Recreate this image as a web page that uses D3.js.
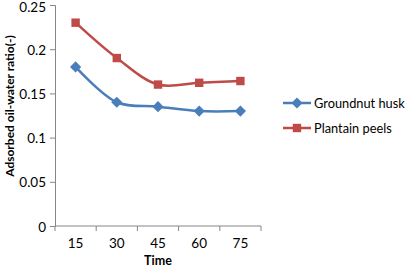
<!DOCTYPE html>
<html>
<head>
<meta charset="utf-8">
<script src="https://cdn.jsdelivr.net/npm/d3@7.9.0/dist/d3.min.js"></script>
<style>
body { margin: 0; background: #fff; }
text { font-family: Lato, "Liberation Sans", sans-serif; fill: #000; }
</style>
</head>
<body>
<svg width="405" height="269"></svg>
<script>
const times = ['15', '30', '45', '60', '75'];
const groundnut = [0.18, 0.14, 0.135, 0.13, 0.13];
const plantain = [0.23, 0.19, 0.16, 0.162, 0.164];
const yTicks = [0, 0.05, 0.1, 0.15, 0.2, 0.25];
const seriesNames = ['Groundnut husk', 'Plantain peels'];
const colors = ['#4a7ebb', '#be4b48'];

const svg = d3.select('svg');
const plotLeft = 55, plotRight = 261, plotTop = 5, plotBottom = 226;

const x = d3.scaleBand().domain(times).range([plotLeft, plotRight]);
const y = d3.scaleLinear().domain([0, 0.25]).range([plotBottom, plotTop]);

// y axis
const yAxis = svg.append('g').attr('transform', `translate(${plotLeft},0)`)
    .call(d3.axisLeft(y).tickValues(yTicks).tickSize(5).tickPadding(4)
        .tickFormat(d => d === 0 ? '0' : String(+d.toFixed(2))));
yAxis.select('.domain').attr('stroke', '#868686');
yAxis.selectAll('line').attr('stroke', '#868686');
yAxis.selectAll('text').attr('font-size', 13.5)
    .attr('dy', d => d === 0.25 ? '0.48em' : '0.38em');

// x axis (ticks between categories)
const xAxis = svg.append('g').attr('transform', `translate(0,${plotBottom})`);
xAxis.append('line').attr('x1', plotLeft).attr('x2', plotRight).attr('stroke', '#868686');
const edges = times.map(t => x(t)).concat([plotRight]);
xAxis.selectAll('.tk').data(edges).join('line')
    .attr('x1', d => d).attr('x2', d => d).attr('y1', 0).attr('y2', 5)
    .attr('stroke', '#868686');
xAxis.selectAll('.lbl').data(times).join('text')
    .attr('x', d => x(d) + x.bandwidth() / 2).attr('y', 22)
    .attr('text-anchor', 'middle').attr('font-size', 13.5).text(d => d);

// titles
svg.append('text').attr('x', 158).attr('y', 265).attr('text-anchor', 'middle')
    .attr('font-weight', 'bold').attr('font-size', 12.5).text('Time');
svg.append('text').attr('transform', 'translate(14,106) rotate(-90)')
    .attr('text-anchor', 'middle').attr('font-weight', 'bold').attr('font-size', 12)
    .text('Adsorbed oil-water ratio(-)');

const line = d3.line()
    .x((d, i) => x(times[i]) + x.bandwidth() / 2)
    .y(d => y(d))
    .curve(d3.curveCatmullRom.alpha(0.5));

[groundnut, plantain].forEach((vals, s) => {
    svg.append('path').attr('d', line(vals)).attr('fill', 'none')
        .attr('stroke', colors[s]).attr('stroke-width', 2.5);
    const sym = s === 0 ? d3.symbolDiamond2 : d3.symbolSquare2;
    const size = s === 0 ? 80 : 90;
    svg.selectAll('.m' + s).data(vals).join('path')
        .attr('d', d3.symbol(sym, size))
        .attr('transform', (d, i) => `translate(${x(times[i]) + x.bandwidth() / 2},${y(d)})`)
        .attr('fill', colors[s]);
});

// legend
seriesNames.forEach((name, s) => {
    const ly = 103 + s * 25;
    const g = svg.append('g');
    g.append('line').attr('x1', 283).attr('x2', 311).attr('y1', ly).attr('y2', ly)
        .attr('stroke', colors[s]).attr('stroke-width', 2.5);
    g.append('path').attr('d', d3.symbol(s === 0 ? d3.symbolDiamond2 : d3.symbolSquare2, s === 0 ? 80 : 90))
        .attr('transform', `translate(297,${ly})`).attr('fill', colors[s]);
    g.append('text').attr('x', 314).attr('y', ly + 4.5).attr('font-size', 12.8).text(name);
});
</script>
</body>
</html>
